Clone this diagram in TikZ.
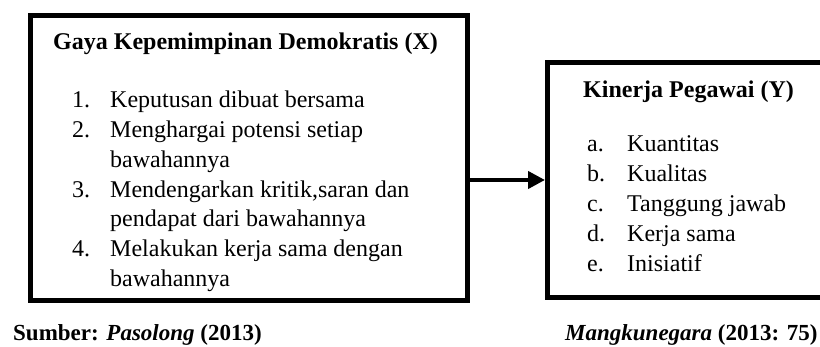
\documentclass[tikz,border=0pt]{standalone}
\usepackage{fontspec}
\setmainfont{Liberation Serif}
\usepackage{array}
\usetikzlibrary{arrows.meta}

\begin{document}
\begin{tikzpicture}[x=1pt, y=-1pt, >={Triangle[length=17pt, width=17pt]},
    box/.style={draw, line width=5pt, inner sep=0pt, anchor=north west},
    txt/.style={anchor=base west, inner sep=0pt, align=left, font=\fontsize{24}{29.7}\selectfont},
    source/.style={anchor=base west, inner sep=0pt, font=\bfseries\fontsize{23}{28}\selectfont}]
  \useasboundingbox (0,0) rectangle (820,347);
  % boxes
  \node[box, minimum width=437pt, minimum height=285pt] (varx) at (28,13) {};
  \node[box, minimum width=280pt, minimum height=235pt] (vary) at (545,60) {};
  \draw[->, line width=4pt] (vary.west -| varx.east) -- (vary.west);
  % variable X
  \node[txt] (xtitle) at (53,50) {\bfseries Gaya Kepemimpinan Demokratis (X)};
  \node[txt] (xlist) at (72,108) {\begin{tabular}[t]{@{}p{38pt}@{}l@{}}
    1. & Keputusan dibuat bersama\\
    2. & Menghargai potensi setiap\\
       & bawahannya\\
    3. & Mendengarkan kritik,saran dan\\
       & pendapat dari bawahannya\\
    4. & Melakukan kerja sama dengan\\
       & bawahannya
  \end{tabular}};
  % variable Y
  \node[txt] (ytitle) at (583,98) {\bfseries Kinerja Pegawai (Y)};
  \node[txt, font=\fontsize{24}{30}\selectfont] (ylist) at (587,152) {\begin{tabular}[t]{@{}p{40pt}@{}l@{}}
    a. & Kuantitas\\
    b. & Kualitas\\
    c. & Tanggung jawab\\
    d. & Kerja sama\\
    e. & Inisiatif
  \end{tabular}};
  % sources
  \node[source] (xsrc) at (13,341) {Sumber: \textit{Pasolong} (2013)};
  \node[source] (ysrc) at (565,341) {\textit{Mangkunegara} (2013: 75)};
\end{tikzpicture}
\end{document}
